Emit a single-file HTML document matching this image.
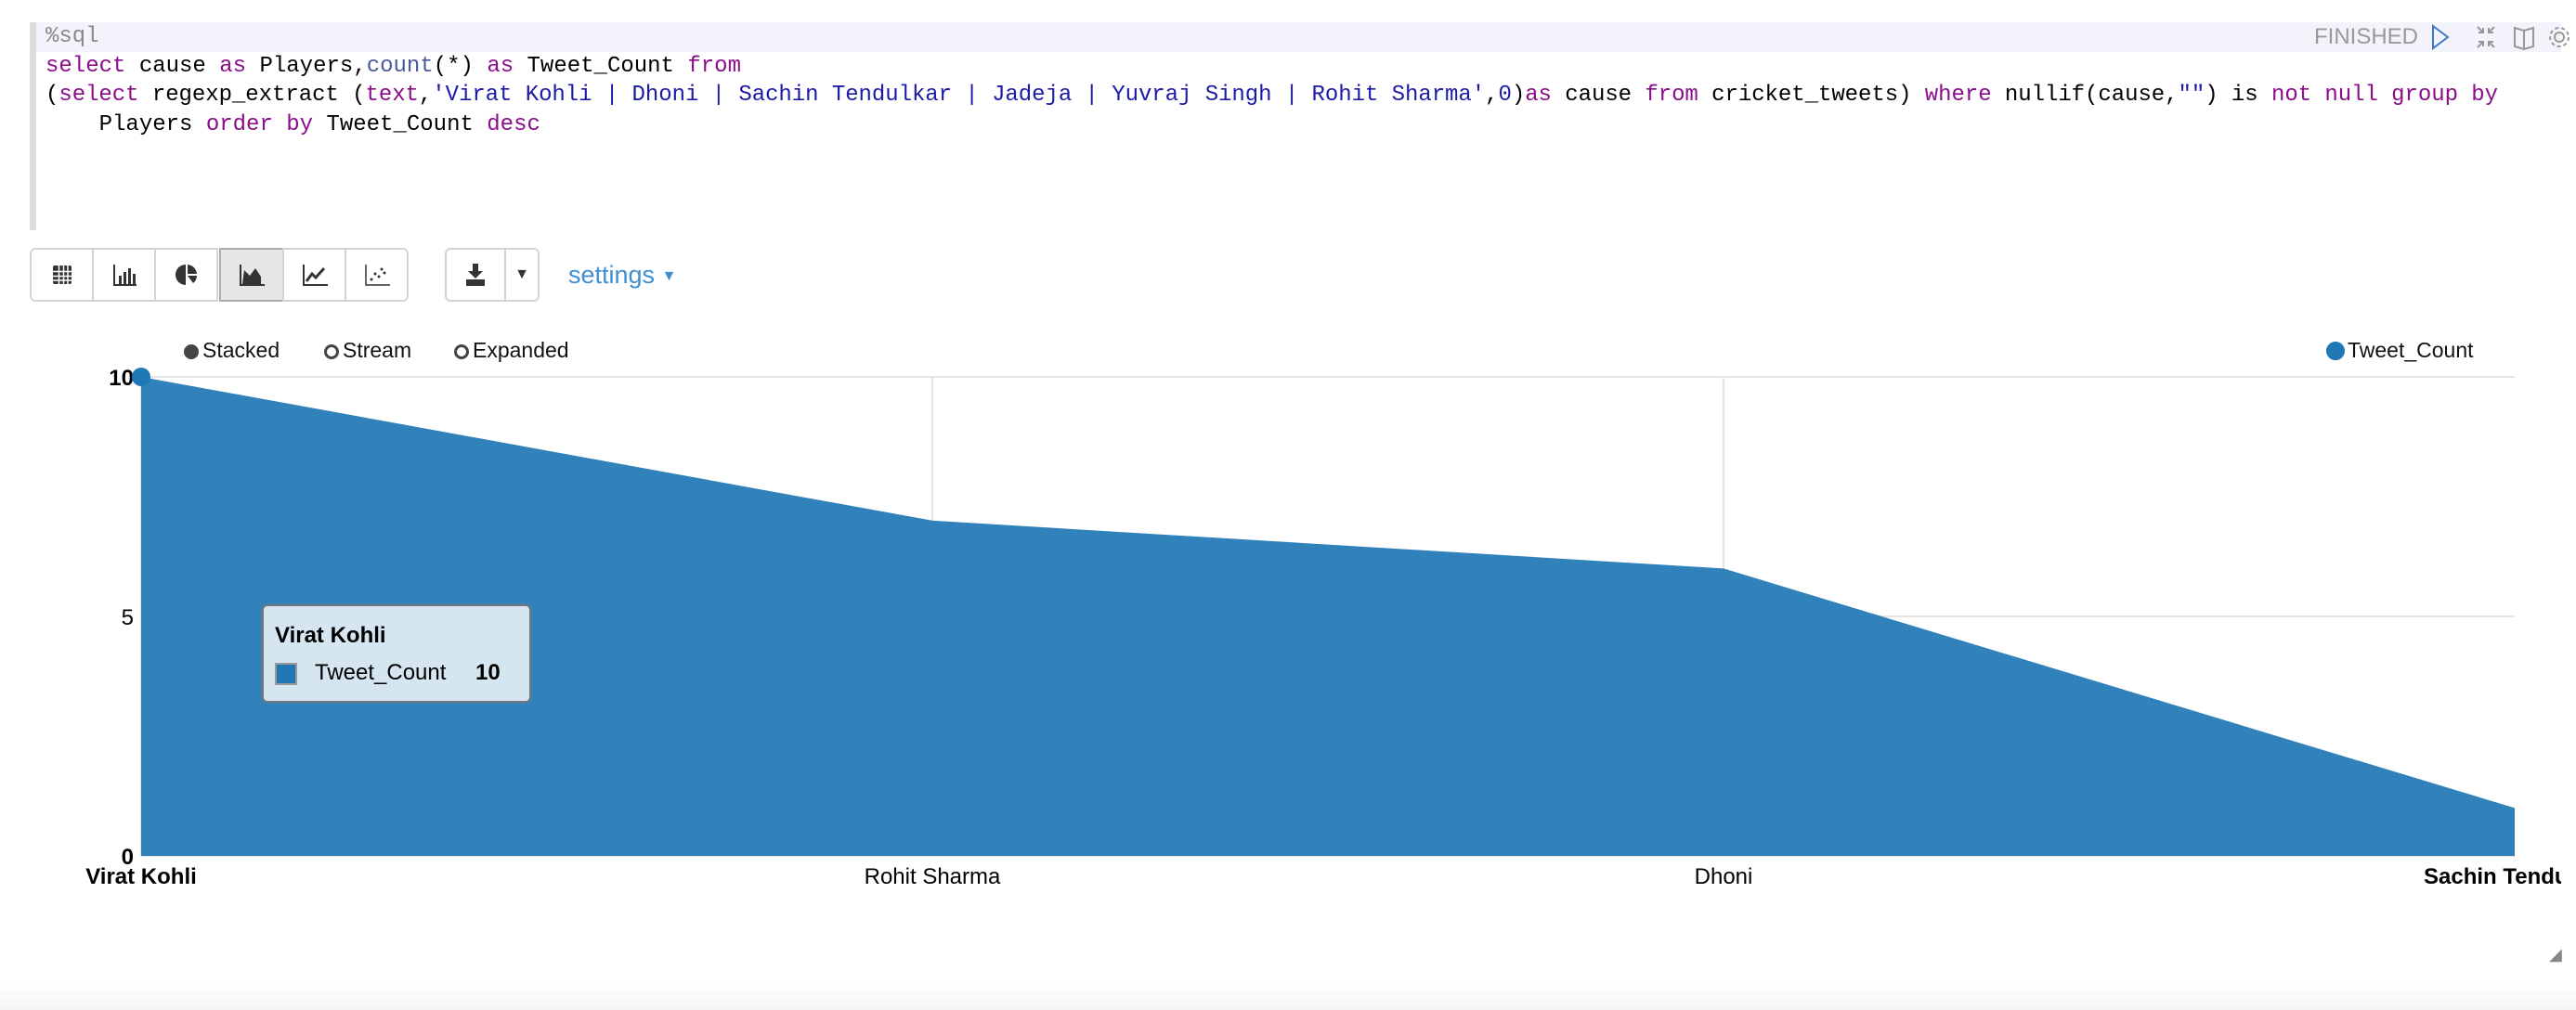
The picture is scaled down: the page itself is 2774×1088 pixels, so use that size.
<!DOCTYPE html>
<html><head><meta charset="utf-8"><style>
body{margin:0;width:2774px;height:1088px;overflow:hidden;background:#fff;font-family:"Liberation Sans",sans-serif;position:relative}
.abs{position:absolute}
#editor{left:32px;top:24px;width:2726px;height:224px;border-left:7px solid #ddd}
#line1bg{left:39px;top:24px;width:2719px;height:32px;background:#f2f3fb}
.code{font-family:"Liberation Mono",monospace;font-size:24px;white-space:pre;left:49px;line-height:32px}
.k{color:#8a0d8a}.s{color:#1a1aa6}.f{color:#333}
.btn{position:absolute;top:267px;height:58px;border:2px solid #d4d4d4;box-sizing:border-box;display:flex;align-items:center;justify-content:center;background:#fff;font-size:22px;color:#333}
.rad{font-size:23px;color:#111;top:364px}
.circ{width:16px;height:16px;border-radius:50%;border:3px solid #444;box-sizing:border-box;display:inline-block;vertical-align:-2px;margin-right:4px}
</style></head><body>
<div class="abs" id="editor"></div>
<div class="abs" id="line1bg"></div>
<div class="abs code" style="top:24px;color:#888">%sql</div>
<div class="abs code" style="top:56px"><span class="k">select</span> cause <span class="k">as</span> Players,<span style="color:#4a5a9a">count</span>(*) <span class="k">as</span> Tweet_Count <span class="k">from</span></div>
<div class="abs code" style="top:87px;letter-spacing:-0.05px">(<span class="k">select</span> regexp_extract (<span class="k">text</span>,<span class="s">'Virat Kohli | Dhoni | Sachin Tendulkar | Jadeja | Yuvraj Singh | Rohit Sharma'</span>,<span class="s">0</span>)<span class="k">as</span> cause <span class="k">from</span> cricket_tweets) <span class="k">where</span> nullif(cause,<span class="s">""</span>) is <span class="k">not null group by</span></div>
<div class="abs code" style="top:119px">    Players <span class="k">order by</span> Tweet_Count <span class="k">desc</span></div>

<div class="abs" style="left:2492px;top:26px;font-size:24px;color:#999">FINISHED</div>
<svg class="abs" style="left:2612px;top:24px" width="162" height="32">
<path d="M8 4 L24 16 L8 28 Z" fill="none" stroke="#3a7ac0" stroke-width="2"/>
<g stroke="#999" stroke-width="2" fill="none"><path d="M56 5 L62 11 M62 6 L62 11 L57 11 M74 5 L68 11 M68 6 L68 11 L73 11 M56 27 L62 21 M62 26 L62 21 L57 21 M74 27 L68 21 M68 26 L68 21 L73 21"/>
<path d="M96 6 L106 9 L116 6 L116 26 L106 29 L96 26 Z M106 9 L106 29"/>
<circle cx="144" cy="16" r="5"/><circle cx="144" cy="16" r="10" stroke-dasharray="4 3"/></g></svg>

<div class="btn" style="left:32px;width:69px;border-radius:6px 0 0 6px"><svg width="22" height="22"><rect x="1" y="1" width="20" height="20" rx="2" fill="#333"/><g stroke="#fff" stroke-width="1.5"><path d="M1 7.5H21M1 12.5H21M1 17H21M7.5 1V21M12.5 1V21M17 1V21"/></g></svg></div>
<div class="btn" style="left:99px;width:69px"><svg width="26" height="26"><path d="M2 2V24H26" stroke="#333" fill="none" stroke-width="2"/><rect x="7" y="14" width="3" height="9" fill="#333"/><rect x="12" y="10" width="3" height="13" fill="#333"/><rect x="17" y="6" width="3" height="17" fill="#333"/><rect x="22" y="12" width="3" height="11" fill="#333"/></svg></div>
<div class="btn" style="left:166px;width:69px"><svg width="26" height="26"><path d="M12 2 A11 11 0 1 0 12 24 Z" fill="#333"/><path d="M14 2 A11 11 0 0 1 24 12 L14 12 Z" fill="#333"/><path d="M14 14 L24 14 A11 11 0 0 1 20 22 Z" fill="#333"/></svg></div>
<div class="btn" style="left:236px;width:70px;background:#e6e6e6;border-color:#adadad"><svg width="28" height="26"><path d="M2 2V24H28" stroke="#333" fill="none" stroke-width="2"/><path d="M4 23L6 8L12 14L18 6L24 15V23Z" fill="#333"/></svg></div>
<div class="btn" style="left:304px;width:69px"><svg width="28" height="26"><path d="M2 2V24H28" stroke="#333" fill="none" stroke-width="2"/><path d="M5 20L11 12L15 16L24 6" stroke="#333" fill="none" stroke-width="3"/></svg></div>
<div class="btn" style="left:371px;width:69px;border-radius:0 6px 6px 0"><svg width="28" height="26"><path d="M2 2V24H28" stroke="#333" fill="none" stroke-width="1.5"/><g fill="#333"><circle cx="8" cy="18" r="1.5"/><circle cx="12" cy="12" r="1.5"/><circle cx="16" cy="15" r="1.5"/><circle cx="19" cy="7" r="1.5"/><circle cx="22" cy="11" r="1.5"/></g></svg></div>
<div class="btn" style="left:479px;width:66px;border-radius:6px 0 0 6px"><svg width="24" height="26"><path d="M9 1H15V9H20L12 17L4 9H9Z" fill="#333"/><rect x="2" y="18" width="20" height="7" fill="#333"/></svg></div>
<div class="btn" style="left:543px;width:38px;border-radius:0 6px 6px 0;font-size:16px">▼</div>
<div class="abs" style="left:612px;top:281px;font-size:27px;color:#3d8fd1">settings <span style="font-size:16px;vertical-align:3px">▼</span></div>

<div class="abs rad" style="left:198px"><span class="circ" style="background:#444"></span>Stacked</div>
<div class="abs rad" style="left:349px"><span class="circ"></span>Stream</div>
<div class="abs rad" style="left:489px"><span class="circ"></span>Expanded</div>
<div class="abs rad" style="left:2505px"><span class="circ" style="background:#1f77b4;border-color:#1f77b4;width:20px;height:20px;vertical-align:-3px;margin-right:3px"></span>Tweet_Count</div>

<svg id="chart" class="abs" style="left:0;top:390px" width="2758" height="600"></svg>

<div class="abs" style="left:282px;top:651px;width:290px;height:106px;border:2px solid #777;border-radius:6px;background:rgba(255,255,255,0.8);box-sizing:border-box">
<div class="abs" style="left:12px;top:18px;font-size:24px;font-weight:bold">Virat Kohli</div>
<div class="abs" style="left:12px;top:61px;width:20px;height:20px;background:#1f77b4;border:2px solid #999"></div>
<div class="abs" style="left:55px;top:58px;font-size:24px">Tweet_Count</div>
<div class="abs" style="left:228px;top:58px;font-size:24px;font-weight:bold">10</div>
</div>
<div class="abs" style="left:2745px;top:1018px;font-size:18px;color:#888">◢</div>
<div class="abs" style="left:0;top:1060px;width:2774px;height:28px;background:linear-gradient(#fff,#f4f4f4)"></div>

<script>
const categories=["Virat Kohli","Rohit Sharma","Dhoni","Sachin Tendulkar"];
const tweetCounts=[10,7,6,1];
const yTicks=[0,5,10];
const NS="http://www.w3.org/2000/svg";
const svg=document.getElementById('chart');
const x0=152,x1=2708,yTop=16,yBot=532,yMax=10;
const xs=i=>x0+(x1-x0)*i/(categories.length-1);
const ys=v=>yBot-(yBot-yTop)*v/yMax;
function mk(t,a){const e=document.createElementNS(NS,t);for(const k in a)e.setAttribute(k,a[k]);svg.appendChild(e);return e;}
yTicks.forEach(v=>{
 const l=mk('line',{x1:x0,x2:x1,y1:ys(v),y2:ys(v),stroke:'#e5e5e5','stroke-width':2});
 
 
 const t=mk('text',{x:x0-8,y:ys(v)+9,'text-anchor':'end','font-size':24,'font-weight':(v===0||v===yMax)?'bold':'normal','font-family':'Liberation Sans'});
 t.textContent=v;
 
 
});
categories.forEach((c,i)=>{
 if(i<categories.length-1){
 const l=mk('line',{x1:xs(i),x2:xs(i),y1:yTop,y2:yBot,stroke:'#e5e5e5','stroke-width':2});
 
 
 }
 const edge=(i===0||i===categories.length-1);
 const t=mk('text',{x:xs(i),y:yBot+30,'text-anchor':'middle','font-size':24,'font-weight':edge?'bold':'normal','font-family':'Liberation Sans'});
 if(i===categories.length-1){t.setAttribute('text-anchor','start');t.setAttribute('x',xs(i)-98);}
 t.textContent=c;
 
 
});
let d='M'+xs(0)+','+yBot;
tweetCounts.forEach((v,i)=>{d+=' L'+xs(i)+','+ys(v);});
d+=' L'+xs(tweetCounts.length-1)+','+yBot+' Z';
const area=mk('path',{d:d,fill:'#1f77b4','fill-opacity':0.92});


const pt=mk('circle',{cx:xs(0),cy:ys(tweetCounts[0]),r:10,fill:'#1f77b4'});


</script>
</body></html>
